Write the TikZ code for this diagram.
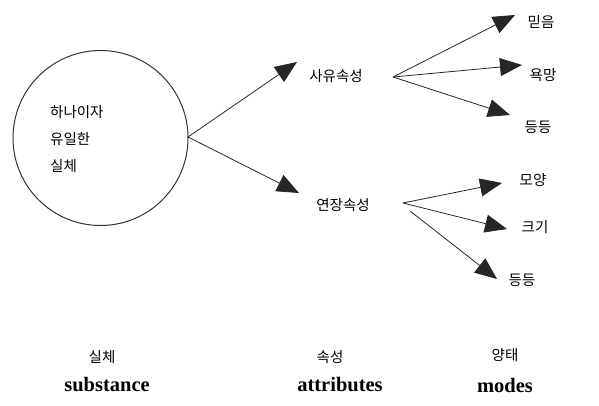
\documentclass[tikz,border=0pt]{standalone}
\usepackage{fontspec}
\newfontfamily\kr{Noto Sans CJK KR}
\setmainfont{Liberation Serif}
\usetikzlibrary{arrows.meta}

\tikzset{
  kor/.style={font=\kr\fontsize{14.5}{27}\selectfont, inner sep=1pt},
  eng/.style={font=\bfseries\fontsize{20.5}{22}\selectfont, inner sep=1pt},
  arr/.style={-{Triangle[length=22pt,width=18pt]}, line width=0.8pt, draw=black!85},
}

\begin{document}
\begin{tikzpicture}[x=1pt,y=-1pt]
    \useasboundingbox (0,0) rectangle (599,405);

    % substance
    \node[draw=black!80, line width=1pt, circle, minimum size=175pt, inner sep=0pt] (sub) at (100.5,138) {};
    \node[kor, align=left, anchor=west] (one) at (49,139) {하나이자\\유일한\\실체};

    % attributes
    \node[kor] (sayu) at (336,76) {사유속성};
    \node[kor] (yeon) at (343,205) {연장속성};

    % modes
    \node[kor] (mid) at (541,22) {믿음};
    \node[kor] (yok) at (543,75) {욕망};
    \node[kor] (dd1) at (538,127) {등등};
    \node[kor] (mo) at (533,180) {모양};
    \node[kor] (kg) at (535,227) {크기};
    \node[kor] (dd2) at (522,280) {등등};

    % start and end points of the arrows
    \coordinate (s0) at (188,137);
    \coordinate (s1) at (393,77);
    \coordinate (s2) at (403,203);
    \coordinate (s3) at (410,211);
    \coordinate (t1) at (297,62);
    \coordinate (t2) at (299,193);
    \coordinate (t3) at (515,15);
    \coordinate (t4) at (522,65);
    \coordinate (t5) at (510,115);
    \coordinate (t6) at (502,183);
    \coordinate (t7) at (507,229);
    \coordinate (t8) at (497,279);

    \draw[arr] (s0) -- (t1);
    \draw[arr] (s0) -- (t2);
    \draw[arr] (s1) -- (t3);
    \draw[arr] (s1) -- (t4);
    \draw[arr] (s1) -- (t5);
    \draw[arr] (s2) -- (t6);
    \draw[arr] (s2) -- (t7);
    \draw[arr] (s3) -- (t8);

    % labels at the bottom
    \node[kor] (lsub) at (102,357) {실체};
    \node[eng] (esub) at (107,385) {substance};
    \node[kor] (latt) at (330,357) {속성};
    \node[eng] (eatt) at (340,385) {attributes};
    \node[kor] (lmod) at (505,355) {양태};
    \node[eng] (emod) at (505,385) {modes};
\end{tikzpicture}
\end{document}
